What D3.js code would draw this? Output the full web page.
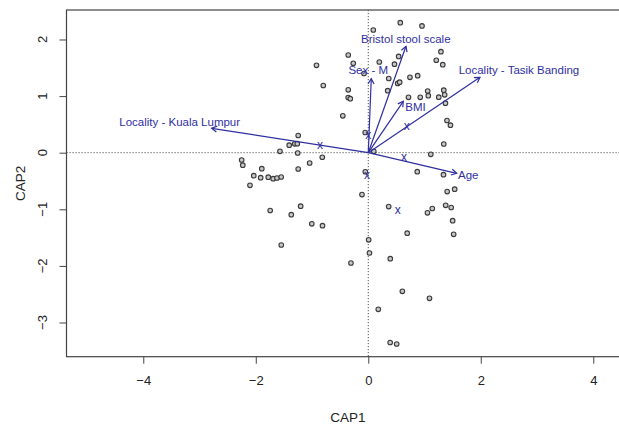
<!DOCTYPE html>
<html>
<head>
<meta charset="utf-8">
<script src="https://cdn.jsdelivr.net/npm/d3@7"></script>
<style>
    body { margin: 0; background: #fff; }
    svg { display: block; font-family: "Liberation Sans", Arial, sans-serif; }
</style>
</head>
<body>
<div id="plot"></div>
<script>
// site scores (CAP1, CAP2)
const siteX = [0.089, 0.569, 0.955, -0.356, -0.267, -0.921, 0.196, 0.466, 0.540, -0.076,
    0.364, 0.741, 0.878, -0.800, -0.356, 0.345, 0.523, 0.558, -0.357, -0.320,
    0.715, 0.924, 1.056, 1.067, 1.253, 1.342, 1.358, 1.372, 1.292, 1.209,
    1.324, -0.453, -0.055, 0.098, -1.246, -1.406, -1.307, -1.262, -1.570, -1.255,
    -0.818, -1.042, -2.251, -2.231, -1.893, -1.246, -2.036, -1.913, -1.778, -1.691,
    -1.623, -1.548, -2.103, 1.399, 1.461, 1.342, 1.111, 0.871, 1.337, -0.053,
    -0.112, 1.403, 1.536, 0.363, 1.052, 1.138, 1.376, 1.474, 1.500, 0.692,
    1.518, 0.007, 0.021, -0.308, 0.391, 0.606, 1.088, 0.178, 0.389, 0.505,
    -1.744, -1.369, -1.202, -1.004, -0.814, -1.547];
const siteY = [2.168, 2.297, 2.239, 1.726, 1.580, 1.544, 1.602, 1.564, 1.700, 1.399,
    1.311, 1.332, 1.360, 1.187, 1.111, 1.095, 1.223, 1.246, 0.975, 0.954,
    0.979, 0.979, 1.090, 1.007, 0.981, 1.104, 1.023, 0.875, 1.784, 1.633,
    1.555, 0.652, 0.357, 0.025, 0.304, 0.133, 0.157, 0.159, 0.025, -0.005,
    -0.080, -0.182, -0.129, -0.221, -0.283, -0.288, -0.406, -0.442, -0.433, -0.459,
    -0.447, -0.429, -0.576, 0.569, 0.486, 0.154, -0.028, -0.336, -0.389, -0.337,
    -0.739, -0.686, -0.645, -0.951, -1.062, -0.986, -0.929, -0.968, -1.201, -1.422,
    -1.442, -1.539, -1.772, -1.949, -1.873, -2.449, -2.572, -2.767, -3.353, -3.380,
    -1.021, -1.095, -0.945, -1.256, -1.290, -1.631];

// biplot arrows and where their labels sit (data units)
const arrowNames = ["Locality - Kuala Lumpur", "Sex - M", "Bristol stool scale", "BMI", "Locality - Tasik Banding", "Age"];
const arrowX = [-2.784, 0.053, 0.670, 0.622, 1.986, 1.572];
const arrowY = [0.431, 1.307, 1.880, 0.908, 1.332, -0.364];
const labelX = [-3.353, 0.0, 0.667, 0.839, 2.679, 1.778];
const labelY = [0.551, 1.461, 2.009, 0.807, 1.461, -0.394];

// factor centroids
const centX = [-0.859, 0.0, -0.023, 0.635, 0.683, 0.523];
const centY = [0.136, 0.313, -0.394, -0.088, 0.459, -1.025];

const xTicks = [-4, -2, 0, 2, 4];
const yTicks = [-3, -2, -1, 0, 1, 2];

const width = 619;
const height = 425;
const marginLeft = 66.5;
const plotRight = 629.5;
const marginTop = 10;
const plotBottom = 356.7;
const blue = "#2f2f9f";

const x = d3.scaleLinear().domain([-5.365, 4.644]).range([marginLeft, plotRight]);
const y = d3.scaleLinear().domain([-3.604, 2.521]).range([plotBottom, marginTop]);

const svg = d3.select("#plot")
    .append("svg")
    .attr("width", width)
    .attr("height", height);

// zero lines
svg.append("line")
    .attr("x1", marginLeft).attr("x2", plotRight)
    .attr("y1", y(0)).attr("y2", y(0))
    .attr("stroke", "#555").attr("stroke-dasharray", "1.2,1.8");
svg.append("line")
    .attr("x1", x(0)).attr("x2", x(0))
    .attr("y1", marginTop).attr("y2", plotBottom)
    .attr("stroke", "#555").attr("stroke-dasharray", "1.2,1.8");

// points
svg.append("g")
    .selectAll("circle")
    .data(siteX)
    .enter()
    .append("circle")
    .attr("cx", (d) => x(d))
    .attr("cy", (d, i) => y(siteY[i]))
    .attr("r", 2.3)
    .attr("fill", "#c8c8c8")
    .attr("stroke", "#3a3a3a")
    .attr("stroke-width", 1.1);

// arrows
const arrows = svg.append("g")
    .selectAll("g")
    .data(arrowNames)
    .enter()
    .append("g");

arrows.append("line")
    .attr("x1", x(0)).attr("y1", y(0))
    .attr("x2", (d, i) => x(arrowX[i]))
    .attr("y2", (d, i) => y(arrowY[i]))
    .attr("stroke", blue)
    .attr("stroke-width", 1.2);

arrows.append("path")
    .attr("d", (d, i) => {
        const x1 = x(arrowX[i]), y1 = y(arrowY[i]);
        const a = Math.atan2(y1 - y(0), x1 - x(0));
        const len = 6, spread = Math.PI / 6;
        const p1 = [x1 - len * Math.cos(a - spread), y1 - len * Math.sin(a - spread)];
        const p2 = [x1 - len * Math.cos(a + spread), y1 - len * Math.sin(a + spread)];
        return `M${p1[0]},${p1[1]}L${x1},${y1}L${p2[0]},${p2[1]}`;
    })
    .attr("fill", "none")
    .attr("stroke", blue)
    .attr("stroke-width", 1.2);

arrows.append("text")
    .attr("x", (d, i) => x(labelX[i]))
    .attr("y", (d, i) => y(labelY[i]))
    .attr("dy", "0.36em")
    .attr("text-anchor", "middle")
    .attr("font-size", 11.5)
    .attr("fill", blue)
    .text((d) => d);

// centroids
svg.append("g")
    .selectAll("text")
    .data(centX)
    .enter()
    .append("text")
    .attr("x", (d) => x(d))
    .attr("y", (d, i) => y(centY[i]))
    .attr("dy", "0.3em")
    .attr("text-anchor", "middle")
    .attr("font-size", 12)
    .attr("fill", blue)
    .text("x");

// axes
svg.append("g")
    .attr("transform", `translate(0,${plotBottom})`)
    .call(d3.axisBottom(x).tickValues(xTicks).tickSize(7).tickPadding(12))
    .call((g) => g.select(".domain").remove())
    .call((g) => g.selectAll("line").attr("stroke", "#444"))
    .call((g) => g.selectAll("text").attr("font-size", 13).attr("fill", "#222")
        .style("font-family", "Liberation Sans, Arial, sans-serif"));

svg.append("g")
    .attr("transform", `translate(${marginLeft},0)`)
    .call(d3.axisLeft(y).tickValues(yTicks).tickSize(7).tickFormat(""))
    .call((g) => g.select(".domain").remove())
    .call((g) => g.selectAll("line").attr("stroke", "#444"));

svg.append("g")
    .selectAll("text")
    .data(yTicks)
    .enter()
    .append("text")
    .attr("transform", (d) => `translate(46.5,${y(d)}) rotate(-90)`)
    .attr("text-anchor", "middle")
    .attr("font-size", 13)
    .attr("fill", "#222")
    .text((d) => String(d).replace("-", "\u2212"));

// frame
svg.append("rect")
    .attr("x", marginLeft).attr("y", marginTop)
    .attr("width", plotRight - marginLeft).attr("height", plotBottom - marginTop)
    .attr("fill", "none")
    .attr("stroke", "#444")
    .attr("stroke-width", 1.2);

// axis titles
svg.append("text")
    .attr("x", (marginLeft + plotRight) / 2)
    .attr("y", 422)
    .attr("text-anchor", "middle")
    .attr("font-size", 13.5)
    .attr("fill", "#222")
    .text("CAP1");

svg.append("text")
    .attr("transform", `translate(25,${(marginTop + plotBottom) / 2}) rotate(-90)`)
    .attr("text-anchor", "middle")
    .attr("font-size", 13.5)
    .attr("fill", "#222")
    .text("CAP2");
</script>
</body>
</html>
